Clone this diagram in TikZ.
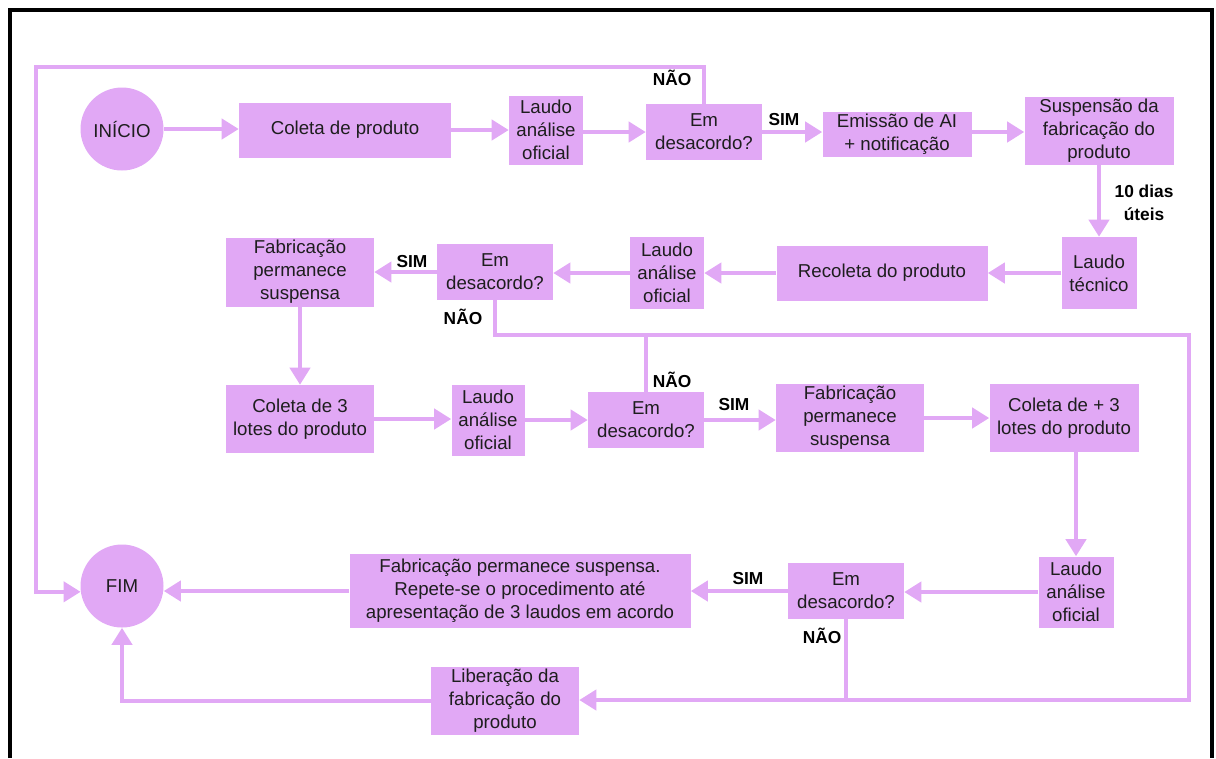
\documentclass[tikz,border=0pt]{standalone}
\usepackage{fontspec}
\setmainfont{Liberation Sans}
\usetikzlibrary{arrows.meta}
\definecolor{lilac}{RGB}{225,168,245}
\definecolor{ink}{RGB}{30,30,30}

\begin{document}
\begin{tikzpicture}[x=0.75pt,y=-0.75pt,
  box/.style={fill=lilac, inner sep=0pt, align=center, text=ink,
    font=\fontsize{14}{17.25}\selectfont},
  wh/.style 2 args={minimum width=#1*0.75pt, minimum height=#2*0.75pt},
  term/.style={box, circle, minimum size=62.25pt},
  lbl/.style={font=\fontsize{13}{17.25}\selectfont\bfseries, align=center,
    text=black, inner sep=0pt},
  link/.style={draw=lilac, line width=3pt},
  arr/.style={link, -{Triangle[length=12.75pt, width=15pt]}},
  frame/.style={draw=black, line width=3pt}
]
\useasboundingbox (0,0) rectangle (1216,758);

% outer frame, open at the bottom
\draw[frame] (9.5,758) -- (9.5,9.5) -- (1212,9.5) -- (1212,758);

% first row
\node[term] (ini) at (122,129) {INÍCIO};
\node[box, wh={212}{55}] (col1) at (345,130) {Coleta de produto};
\node[box, wh={74}{69}] (lau1) at (546,130) {Laudo\\análise\\oficial};
\node[box, wh={116}{56}] (des1) at (704,132) {Em\\desacordo?};
\node[box, wh={149}{45}] (emi) at (897,134) {Emissão de AI\\+ notificação};
\node[box, wh={149}{68}] (sus) at (1099,131) {Suspensão da\\fabricação do\\produto};

% second row
\node[box, wh={75}{72}] (ltec) at (1099,273) {Laudo\\técnico};
\node[box, wh={211}{55}] (rec) at (882,273) {Recoleta do produto};
\node[box, wh={74}{72}] (lau2) at (667,273) {Laudo\\análise\\oficial};
\node[box, wh={116}{56}] (des2) at (495,272) {Em\\desacordo?};
\node[box, wh={148}{69}] (fab1) at (300,272) {Fabricação\\permanece\\suspensa};

% third row
\node[box, wh={148}{68}] (col3) at (300,419) {Coleta de 3\\lotes do produto};
\node[box, wh={73}{71}] (lau3) at (488,420) {Laudo\\análise\\oficial};
\node[box, wh={116}{56}] (des3) at (646,420) {Em\\desacordo?};
\node[box, wh={148}{68}] (fab2) at (850,418) {Fabricação\\permanece\\suspensa};
\node[box, wh={149}{68}] (colp3) at (1064,418) {Coleta de + 3\\lotes do produto};

% fourth row
\node[box, wh={75}{71}] (lau4) at (1076,592) {Laudo\\análise\\oficial};
\node[box, wh={116}{56}] (des4) at (846,591) {Em\\desacordo?};
\node[box, wh={341}{74}] (rep) at (520,591)
  {Fabricação permanece suspensa.\\Repete-se o procedimento até\\apresentação de 3 laudos em acordo};
\node[term] (fim) at (122,586) {FIM};
\node[box, wh={148}{68}] (lib) at (505,701) {Liberação da\\fabricação do\\produto};

% corners of the long return paths
\coordinate (tl) at (36,67);
\coordinate (r1) at (1189,335);
\coordinate (r2) at (1189,700);

% main flow
\draw[arr] (ini.east) -- (ini.east -| col1.west);
\draw[arr] (col1.east) -- (col1.east -| lau1.west);
\draw[arr] (lau1.east |- des1) -- (des1.west);
\draw[arr] (des1.east) -- (des1.east -| emi.west);
\draw[arr] (emi.east |- des1) -- (des1 -| sus.west);
\draw[arr] (sus.south) -- (ltec.north);
\draw[arr] (ltec.west) -- (ltec.west -| rec.east);
\draw[arr] (rec.west) -- (rec.west -| lau2.east);
\draw[arr] (lau2.west) -- (lau2.west -| des2.east);
\draw[arr] (des2.west) -- (des2.west -| fab1.east);
\draw[arr] (fab1.south) -- (col3.north);
\draw[arr] (col3.east) -- (col3.east -| lau3.west);
\draw[arr] (lau3.east) -- (lau3.east -| des3.west);
\draw[arr] (des3.east) -- (des3.east -| fab2.west);
\draw[arr] (fab2.east) -- (fab2.east -| colp3.west);
\draw[arr] (colp3.south -| lau4.north) -- (lau4.north);
\draw[arr] (lau4.west) -- (lau4.west -| des4.east);
\draw[arr] (des4.west) -- (des4.west -| rep.east);
\draw[arr] (rep.west) -- (rep.west -| fim.east);

% "no" branches
\draw[arr] (des1.north) |- (tl) |- (fim.188);
\draw[arr] (des2.south) |- (r1) -- (r2) -- (r2 -| lib.east);
\draw[link] (des3.north) -- (des3.north |- r1);
\draw[link] (des4.south) -- (des4.south |- r2);
\draw[arr] (lib.west) -| (fim.south);

% branch labels
\node[lbl] (n1) at (672,78) {NÃO};
\node[lbl] (s1) at (784,120) {SIM};
\node[lbl] (d10) at (1144,203) {10 dias\\úteis};
\node[lbl] (s2) at (412,262) {SIM};
\node[lbl] (n2) at (463,317) {NÃO};
\node[lbl] (n3) at (672,380) {NÃO};
\node[lbl] (s3) at (734,405) {SIM};
\node[lbl] (s4) at (748,579) {SIM};
\node[lbl] (n4) at (822,636) {NÃO};
\end{tikzpicture}
\end{document}
